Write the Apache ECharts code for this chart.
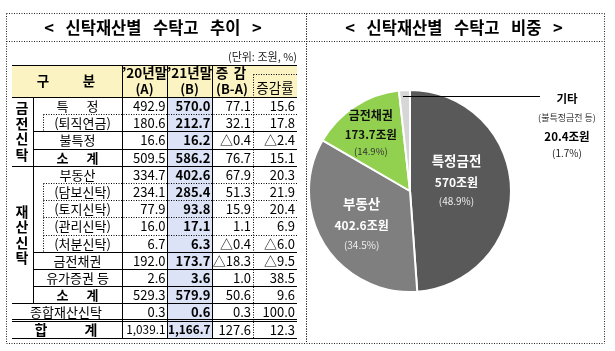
<!DOCTYPE html>
<html><head><meta charset="utf-8">
<script src="https://cdn.jsdelivr.net/npm/echarts@6/dist/echarts.min.js"></script>
<style>html,body{margin:0;padding:0;background:#fff}#c{width:615px;height:351px}</style>
</head><body><div id="c"></div>
<script>
// ---------- data ----------
const tableTitle = '< 신탁재산별 수탁고 추이 >';
const pieTitle = '< 신탁재산별 수탁고 비중 >';
const unitText = '(단위: 조원, %)';
const headers = ['구 분', '’20년말', '(A)', '’21년말', '(B)', '증 감', '(B-A)', '증감률'];
const groupLabels = ['금전신탁', '재산신탁'];
const rowLabels = ['특 정', '(퇴직연금)', '불특정', '소 계', '부동산', '(담보신탁)', '(토지신탁)', '(관리신탁)', '(처분신탁)', '금전채권', '유가증권 등', '소 계', '종합재산신탁', '합 계'];
const end2020 = [492.9, 180.6, 16.6, 509.5, 334.7, 234.1, 77.9, 16.0, 6.7, 192.0, 2.6, 529.3, 0.3, 1039.1];
const end2021 = [570.0, 212.7, 16.2, 586.2, 402.6, 285.4, 93.8, 17.1, 6.3, 173.7, 3.6, 579.9, 0.6, 1166.7];
const changeAmt = [77.1, 32.1, -0.4, 76.7, 67.9, 51.3, 15.9, 1.1, -0.4, -18.3, 1.0, 50.6, 0.3, 127.6];
const changeRate = [15.6, 17.8, -2.4, 15.1, 20.3, 21.9, 20.4, 6.9, -6.0, -9.5, 38.5, 9.6, 100.0, 12.3];

const pieNames = ['특정금전', '부동산', '금전채권', '기타'];
const pieValues = [570, 402.6, 173.7, 20.4];
const piePct = ['48.9', '34.5', '14.9', '1.7'];
const pieNotes = ['', '', '', '(불특정금전 등)'];

// ---------- layout / style ----------
const FONT = '"Noto Sans CJK KR", "Noto Sans", sans-serif';
const rowKinds = ['main','sub','main','total','main','sub','sub','sub','sub','main','main','total','full','grand'];
const lineAfter = ['dot43','solid33','solid33','solid12','dot43','dot43','dot43','dot43','solid33','solid33','solid33','solid12','double12','solid12'];
const groupRows = [[0,3],[4,11]];
const X = {left:12, cat:33, sub:43, lbl:122, a:167, b:212, c:253, end:297};
const headTop = 65, headBot = 97, rowH = 17.2;
const rowTop = i => headBot + i * rowH;
const bottom = rowTop(rowLabels.length);
const px = v => Math.round(v) + 0.5;

const g = [];
function txt(x, y, text, size, o) {
  o = o || {};
  g.push({type:'text', silent:true, z:3, style:{x:x, y:y, text:text,
    font:(o.bold ? 'bold ' : '') + size + 'px ' + FONT, fill:o.color || '#000',
    textAlign:o.align || 'center', textVerticalAlign:'middle'}});
}
function line(x1, y1, x2, y2, o) {
  o = o || {};
  g.push({type:'line', silent:true, z:o.z || 2, shape:{x1:x1, y1:y1, x2:x2, y2:y2},
    style:{stroke:o.color || '#000', lineWidth:o.w || 1, lineDash:o.dash ? [1, 1.5] : null}});
}
function rect(x, y, w, h, fill) {
  g.push({type:'rect', silent:true, z:1, shape:{x:x, y:y, width:w, height:h}, style:{fill:fill}});
}
function fmt(v) {
  const s = Math.abs(v).toLocaleString('en-US', {minimumFractionDigits:1, maximumFractionDigits:1});
  return v < 0 ? '△' + s : s;
}
function numSize(s) { return s.length > 6 ? 11.8 : 13; }
function spaced(label, cx, cy, size, bold, half) {
  const m = label.match(/^(\S) (\S)$/);
  if (m) { txt(cx - half, cy, m[1], size, {bold:bold}); txt(cx + half, cy, m[2], size, {bold:bold}); }
  else txt(cx, cy, label, size, {bold:bold});
}
const wide = s => s.replace(/ /g, '\u2002\u2009');

// panels
[[6, 306], [306, 604]].forEach(function (p) {
  const o = {dash:true, color:'#222'};
  line(px(p[0]), 13.5, px(p[1]), 13.5, o);
  line(px(p[0]), 41.5, px(p[1]), 41.5, o);
  line(px(p[0]), 343.5, px(p[1]), 343.5, o);
  line(px(p[0]), 13.5, px(p[0]), 343.5, o);
  line(px(p[1]), 13.5, px(p[1]), 343.5, o);
});
txt(153, 27.5, wide(tableTitle), 16.5, {bold:true});
txt(454, 27.5, wide(pieTitle), 16.5, {bold:true});
txt(297, 57, unitText, 11, {align:'right', color:'#222'});

// backgrounds
rect(X.left, headTop, X.end - X.left, headBot - headTop, '#fcf3c2');
rect(X.a, headBot, X.b - X.a, bottom - headBot, '#dde3f6');

// header
spaced(headers[0], 66, 81, 13.5, true, 23);
txt((X.lbl + X.a) / 2, 73, headers[1], 13.5, {bold:true});
txt((X.lbl + X.a) / 2, 89, headers[2], 13, {bold:true});
txt((X.a + X.b) / 2, 73, headers[3], 13.5, {bold:true});
txt((X.a + X.b) / 2, 89, headers[4], 13, {bold:true});
spaced(headers[5], 231, 73, 13.5, true, 9);
txt(232, 89, headers[6], 13, {bold:true});
txt((X.c + X.end) / 2, 88, headers[7], 13.5);
line(px(X.c), 74.5, X.end, 74.5, {dash:true});

// grid lines
line(X.left, px(headTop), X.end, px(headTop));
line(X.left, px(headBot), X.end, px(headBot));
line(px(X.cat), px(headBot), px(X.cat), px(rowTop(12)));
[X.lbl, X.a, X.b].forEach(function (x) { line(px(x), px(headTop), px(x), px(bottom)); });
line(px(X.c), 74.5, px(X.c), px(bottom), {dash:true});
rowLabels.forEach(function (lab, i) {
  const y = px(rowTop(i + 1));
  const t = lineAfter[i];
  if (t === 'dot43') line(px(X.sub), y, X.end, y, {dash:true});
  else if (t === 'solid33') line(px(X.cat), y, X.end, y);
  else if (t === 'solid12') line(X.left, y, X.end, y);
  else if (t === 'double12') { line(X.left, y - 2, X.end, y - 2); line(X.left, y, X.end, y); }
  if (rowKinds[i] === 'sub') line(px(X.sub), px(rowTop(i)), px(X.sub), px(rowTop(i + 1)), {dash:true});
});

// group labels (vertical)
groupRows.forEach(function (r, k) {
  const cy = (rowTop(r[0]) + rowTop(r[1] + 1)) / 2;
  const chars = groupLabels[k].split('');
  const step = 15.5;
  chars.forEach(function (ch, j) {
    txt(22, cy + (j - (chars.length - 1) / 2) * step, ch, 14, {bold:true});
  });
});

// rows
rowLabels.forEach(function (lab, i) {
  const cy = rowTop(i) + rowH / 2 + 0.5;
  const kind = rowKinds[i];
  if (kind === 'main') spaced(lab, 77.5, cy, 13, false, 15);
  else if (kind === 'sub') txt(82.5, cy, lab, 13);
  else if (kind === 'total') spaced(lab, 77.5, cy, 13, true, 15);
  else if (kind === 'full') txt(66, cy, lab, 13);
  else spaced(lab, 66, cy, 14, true, 25);
  const a = fmt(end2020[i]), b = fmt(end2021[i]);
  txt(X.a - 1.5, cy, a, numSize(a), {align:'right'});
  txt(X.b - 1.5, cy, b, numSize(b), {align:'right', bold:true});
  txt(X.c - 2, cy, fmt(changeAmt[i]), 13, {align:'right'});
  txt(X.end - 2, cy, fmt(changeRate[i]), 13, {align:'right'});
});

// leader line for the small '기타' slice (drawn above the sectors)
line(403, 96.5, 540, 96.5, {z:10, color:'#000'});

// ---------- pie ----------
const pieColors = ['#595959', '#7f7f7f', '#92d050', '#d6d6d6'];
const labelShift = [[-7, -9], [-3, 4], [-10, -14], [0, 0]];
const richStyles = {
  n0:{fontFamily:FONT, fontSize:13.5, fontWeight:'bold', color:'#fff', lineHeight:23},
  v0:{fontFamily:FONT, fontSize:12, fontWeight:'bold', color:'#fff', lineHeight:20},
  p0:{fontFamily:FONT, fontSize:10, color:'#eee', lineHeight:18},
  n2:{fontFamily:FONT, fontSize:12, fontWeight:'bold', color:'#111', lineHeight:20},
  v2:{fontFamily:FONT, fontSize:11.5, fontWeight:'bold', color:'#111', lineHeight:19},
  p2:{fontFamily:FONT, fontSize:9.5, color:'#333', lineHeight:15},
  n3:{fontFamily:FONT, fontSize:11.5, fontWeight:'bold', color:'#000', lineHeight:19},
  s3:{fontFamily:FONT, fontSize:9, color:'#333', lineHeight:19},
  v3:{fontFamily:FONT, fontSize:11.5, fontWeight:'bold', color:'#000', lineHeight:18},
  p3:{fontFamily:FONT, fontSize:10, color:'#222', lineHeight:16}
};
const pieData = pieNames.map(function (n, i) {
  return {name:n, value:pieValues[i], itemStyle:{color:pieColors[i]}};
});

const chart = echarts.init(document.getElementById('c'), null, {renderer:'canvas'});
chart.setOption({
  animation:false,
  graphic:{elements:g},
  series:[{
    type:'pie', center:[410, 191], radius:101, startAngle:90, clockwise:true,
    avoidLabelOverlap:false,
    itemStyle:{borderColor:'#fff', borderWidth:2},
    label:{show:true, position:'inside', rich:richStyles,
      formatter:function (p) {
        const i = p.dataIndex;
        const k = (i === 1) ? 0 : i;
        if (i === 3) return '{n3|' + p.name + '}\n{s3|' + pieNotes[i] + '}\n{v3|' + p.value + '조원}\n{p3|(' + piePct[i] + '%)}';
        return '{n' + k + '|' + p.name + '}\n{v' + k + '|' + p.value + '조원}\n{p' + k + '|(' + piePct[i] + '%)}';
      }},
    labelLine:{show:false},
    labelLayout:function (p) {
      const i = p.dataIndex;
      if (i === 3) return {x:567, y:89.5, align:'center', verticalAlign:'top'};
      return {dx:labelShift[i][0], dy:labelShift[i][1]};
    },
    data:pieData
  }]
});
</script>
</body></html>
